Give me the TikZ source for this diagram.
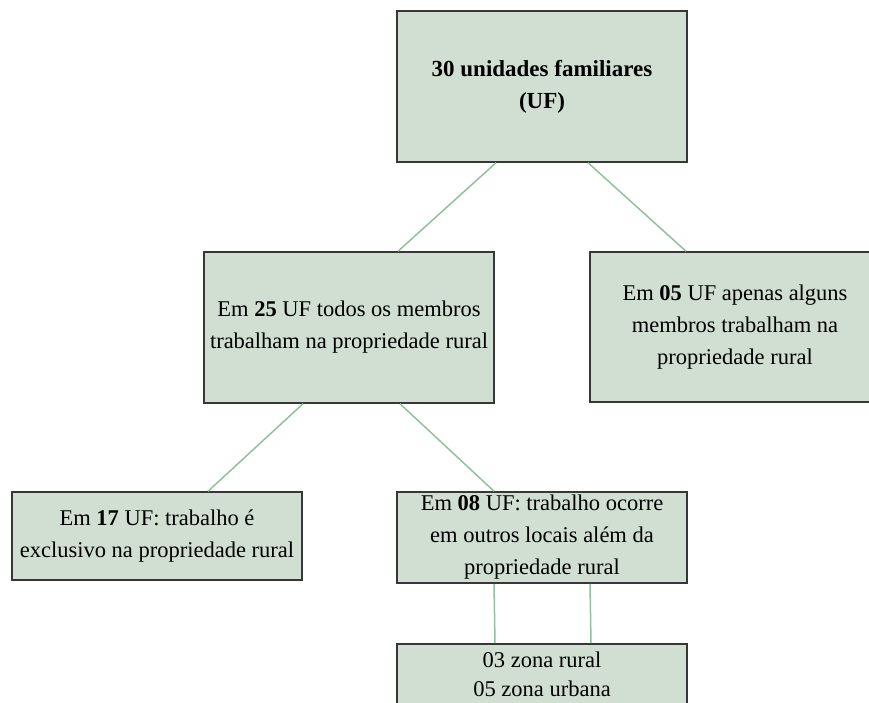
\documentclass[tikz,border=0pt]{standalone}
\usepackage{fontspec}
\setmainfont{Liberation Serif}
\definecolor{boxgreen}{RGB}{208,223,209}
\definecolor{linkgreen}{RGB}{146,192,156}
\definecolor{edgegray}{RGB}{55,55,55}

\begin{document}
\begin{tikzpicture}[x=1pt, y=-1pt,
    ufbox/.style={draw=edgegray, fill=boxgreen, line width=1.5pt,
        minimum width=290pt, inner xsep=2pt, inner ysep=1pt,
        align=center, font=\fontsize{22.5}{32}\selectfont},
    link/.style={linkgreen, line width=1.5pt}]
    \useasboundingbox (0,0) rectangle (869,702);
    \clip (0,0) rectangle (869,702);

    \node[ufbox, minimum height=151pt, font=\fontsize{23}{32}\selectfont\bfseries] (uf) at (542,86.5)
        {30 unidades familiares\\(UF)};

    \node[ufbox, minimum height=151pt] (todos) at (349,327.5)
        {Em \textbf{25} UF todos os membros\\trabalham na propriedade rural};
    \node[ufbox, minimum height=150pt] (alguns) at (735,327)
        {Em \textbf{05} UF apenas alguns\\membros trabalham na\\propriedade rural};

    \node[ufbox, minimum height=88pt] (exclusivo) at (157,536)
        {Em \textbf{17} UF: trabalho é\\exclusivo na propriedade rural};
    \node[ufbox, minimum height=91pt, inner ysep=0pt] (outros) at (542,537.5)
        {Em \textbf{08} UF: trabalho ocorre\\em outros locais além da\\propriedade rural};

    \node[ufbox, anchor=north, inner ysep=8pt, minimum height=91pt, text depth=58pt,
        font=\fontsize{22.5}{29}\selectfont] (zonas) at (542,643)
        {03 zona rural\\05 zona urbana};

    % ligações
    \draw[link] ([xshift=-46pt]uf.south) -- ([xshift=49pt]todos.north);
    \draw[link] ([xshift=46pt]uf.south) -- ([xshift=-49pt]alguns.north);
    \draw[link] ([xshift=-46pt]todos.south) -- ([xshift=51pt]exclusivo.north);
    \draw[link] ([xshift=51pt]todos.south) -- ([xshift=-48pt]outros.north);
    \draw[link] ([xshift=-48pt]outros.south) -- ([xshift=-47pt]zonas.north);
    \draw[link] ([xshift=48pt]outros.south) -- ([xshift=49pt]zonas.north);
\end{tikzpicture}
\end{document}
